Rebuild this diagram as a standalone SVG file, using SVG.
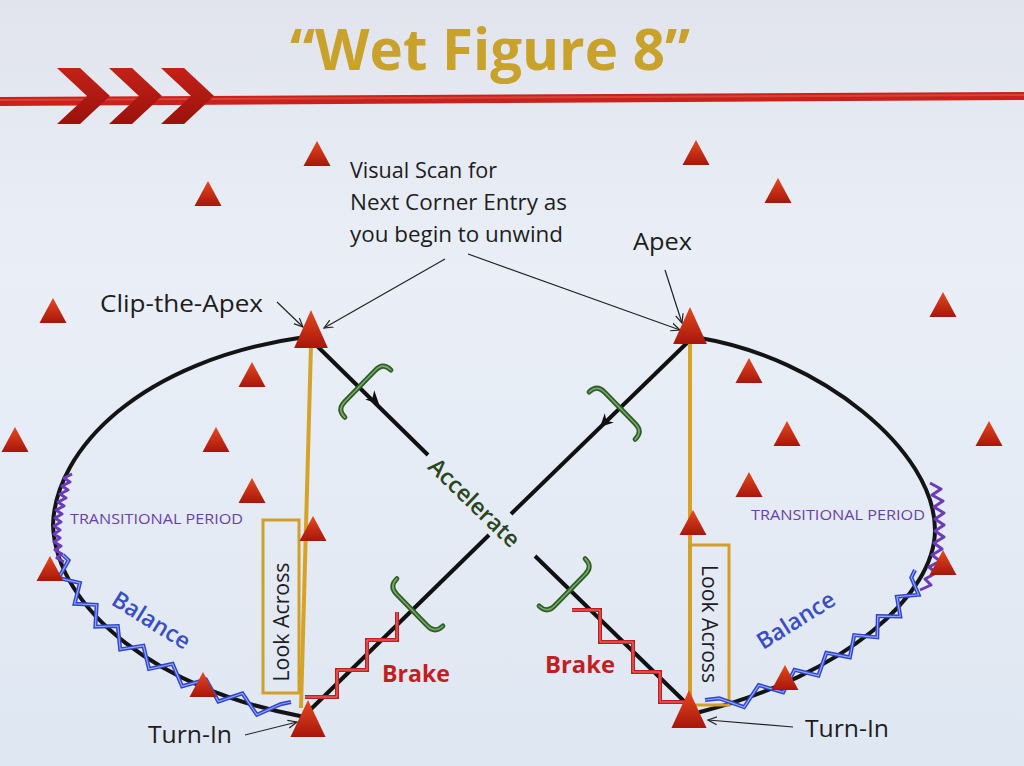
<svg xmlns="http://www.w3.org/2000/svg" width="1024" height="766" viewBox="0 0 1024 766">
<defs>
<linearGradient id="bg" x1="0" y1="0" x2="0" y2="1">
<stop offset="0" stop-color="#e1e4ec"/>
<stop offset="0.35" stop-color="#eaeff7"/>
<stop offset="1" stop-color="#dfe7f2"/>
</linearGradient>
<linearGradient id="coneGrad" x1="0" y1="0" x2="0" y2="1">
<stop offset="0" stop-color="#e4491f"/>
<stop offset="1" stop-color="#a8160b"/>
</linearGradient>
<linearGradient id="chevGrad" x1="0" y1="0" x2="0" y2="1">
<stop offset="0" stop-color="#c42117"/>
<stop offset="1" stop-color="#9a120c"/>
</linearGradient>
<path id="cone" d="M-13.5,0 L0,-25 L13.5,0 Z"/>
<path id="bracket" d="M11,-33 C3,-33 0,-29 0,-22 L0,22 C0,29 3,33 11,33"/>
<path id="chev" d="M0,0 L23,0 L53,28 L23,56 L0,56 L30,28 Z"/>
<marker id="open" viewBox="0 0 10 10" refX="9" refY="5" markerWidth="10" markerHeight="10" markerUnits="userSpaceOnUse" orient="auto">
<path d="M0,1 L9,5 L0,9" fill="none" stroke="#222" stroke-width="1.2"/>
</marker>
<style>
.cone{fill:url(#coneGrad);}
.loop{fill:none;stroke:#141414;stroke-width:4;stroke-linecap:round;}
.diag{fill:none;stroke:#111;stroke-width:4;}
.gold{fill:none;stroke:#d6a329;stroke-width:4;}
.box{fill:none;stroke:#d0a02a;stroke-width:3;}
.brk1{fill:none;stroke:#2f5d28;stroke-width:5;stroke-linecap:round;}
.brk2{fill:none;stroke:#7aa866;stroke-width:1.6;stroke-linecap:round;}
.blue1{fill:none;stroke:#3243c9;stroke-width:4;stroke-linejoin:miter;}
.blue2{fill:none;stroke:#8fa8ff;stroke-width:1.2;}
.purp{fill:none;stroke:#6a3cb8;stroke-width:3;stroke-linejoin:round;}
.red1{fill:none;stroke:#c51d1f;stroke-width:4;}
.red2{fill:none;stroke:#f07a74;stroke-width:1;}
.ann{fill:none;stroke:#222;stroke-width:1.2;marker-end:url(#open);}
.t{font-family:"Open Sans","Liberation Sans",sans-serif;fill:#1d1d1d;}
.lbl{font-size:23px;}
.trans{font-family:"Open Sans","Liberation Sans",sans-serif;font-size:15px;fill:#6a3fa8;}
.bal{font-family:"Open Sans","Liberation Sans",sans-serif;font-size:23px;font-weight:600;fill:#3a4ec4;}
.brake{font-family:"Open Sans","Liberation Sans",sans-serif;font-size:23px;font-weight:700;fill:#c11f22;}
</style>
</defs>

<rect width="1024" height="766" fill="url(#bg)"/>

<g id="header">
<polygon points="0,97 1024,92 1024,100 0,106" fill="#c9221d"/>
<polygon points="0,99 1024,94 1024,96 0,101" fill="#e55a4a" opacity="0.6"/>
<use href="#chev" x="57" y="68" fill="url(#chevGrad)"/>
<use href="#chev" x="109" y="68" fill="url(#chevGrad)"/>
<use href="#chev" x="161" y="68" fill="url(#chevGrad)"/>
</g>

<g id="title">
<text x="490" y="70" text-anchor="middle" font-family="'Open Sans','Liberation Sans',sans-serif" font-size="57" font-weight="700" fill="#c9a22b" textLength="400" lengthAdjust="spacingAndGlyphs">“Wet Figure 8”</text>
</g>

<g id="connectors">
<path class="loop" d="M305,337 C140,360 55,450 53,525 C56,610 160,690 300,716"/>
<path class="loop" d="M700,338 C820,358 935,450 935,530 C935,595 845,675 700,712"/>
<path class="diag" d="M311,340 L428,455"/>
<path class="diag" d="M535,556 L688,705"/>
<path class="diag" d="M690,340 L511,514"/>
<path class="diag" d="M489,535 L308,712"/>
<path d="M0,0 L-13,-6.5 L-9,0 L-13,6.5 Z" fill="#111" transform="translate(379,404) rotate(44.2)"/>
<path d="M0,0 L-13,-6.5 L-9,0 L-13,6.5 Z" fill="#111" transform="translate(600,427) rotate(135.8)"/>
<path class="gold" d="M311,345 L301,708"/>
<path class="gold" d="M690,344 L690,705"/>
<path class="ann" d="M445,259 L324,328"/>
<path class="ann" d="M468,254 L680,330"/>
<path class="ann" d="M277,302 L303,327"/>
<path class="ann" d="M665,270 L682,323"/>
<path class="ann" d="M245,735 L297,722"/>
<path class="ann" d="M793,727 L708,720"/>
</g>

<g id="look-across-left">
<rect class="box" x="263" y="520" width="36" height="173"/>
<text class="t" font-size="21" transform="translate(289,622) rotate(-90)" text-anchor="middle" textLength="119" lengthAdjust="spacingAndGlyphs">Look Across</text>
</g>
<g id="look-across-right">
<rect class="box" x="690" y="545" width="39" height="160"/>
<text class="t" font-size="21" transform="translate(702,624) rotate(90)" text-anchor="middle" textLength="118" lengthAdjust="spacingAndGlyphs">Look Across</text>
</g>

<g id="transitional-left">
<polyline class="purp" points="72,474 64,478 70,482 62,486 68,490 60,494 66,498 58,502 64,506 56,510 62,514 55,518 61,522 54,526 60,530 54,534 60,538 54,542 61,546 55,550 62,554 57,558 64,562"/>
<text class="trans" x="70" y="524" textLength="173" lengthAdjust="spacingAndGlyphs">TRANSITIONAL PERIOD</text>
</g>
<g id="transitional-right">
<polyline class="purp" points="930,483 941,489 932,495 943,501 934,507 944,513 935,519 944,525 935,531 944,537 934,543 942,549 932,555 940,561 929,567 936,573 925,579 931,585 920,590"/>
<text class="trans" x="751" y="520" textLength="174" lengthAdjust="spacingAndGlyphs">TRANSITIONAL PERIOD</text>
</g>

<g id="balance-left">
<polyline class="blue1" points="63,555 68.6,560.3 58.6,578 79.9,583 74.6,603.8 96.6,604.8 95.4,626.7 117.8,626 120.2,649.4 143.4,645.8 149,669 172.6,663.9 182.1,686.3 206,679.6 218.4,701.5 242.4,693.4 256.9,714.8 280.6,704.2 291,702"/>
<polyline class="blue2" points="63,555 68.6,560.3 58.6,578 79.9,583 74.6,603.8 96.6,604.8 95.4,626.7 117.8,626 120.2,649.4 143.4,645.8 149,669 172.6,663.9 182.1,686.3 206,679.6 218.4,701.5 242.4,693.4 256.9,714.8 280.6,704.2 291,702"/>
<text class="bal" transform="translate(147,627) rotate(32)" text-anchor="middle">Balance</text>
</g>
<g id="balance-right">
<polyline class="blue1" points="705,700 719.3,698.4 744.1,707.2 758.8,685.1 783.2,692.4 794.5,669.9 818.4,675.7 826.3,652.9 849.9,657.3 854.2,635.1 877.3,637.4 877.8,616.1 900.3,616.5 896.9,596.7 918.6,594.8 911.3,577.6 915,570"/>
<polyline class="blue2" points="705,700 719.3,698.4 744.1,707.2 758.8,685.1 783.2,692.4 794.5,669.9 818.4,675.7 826.3,652.9 849.9,657.3 854.2,635.1 877.3,637.4 877.8,616.1 900.3,616.5 896.9,596.7 918.6,594.8 911.3,577.6 915,570"/>
<text class="bal" transform="translate(800,627) rotate(-32)" text-anchor="middle">Balance</text>
</g>

<g id="brake-left">
<polyline class="red1" points="305,697 337,697 337,670 367,670 367,640 397,640 397,612"/>
<polyline class="red2" points="305,697 337,697 337,670 367,670 367,640 397,640 397,612"/>
<text class="brake" x="416" y="682" text-anchor="middle" textLength="68" lengthAdjust="spacingAndGlyphs">Brake</text>
</g>
<g id="brake-right">
<polyline class="red1" points="572,610 600,610 600,642 633,642 633,672 660,672 660,702 687,702"/>
<polyline class="red2" points="572,610 600,610 600,642 633,642 633,672 660,672 660,702 687,702"/>
<text class="brake" x="580" y="673" text-anchor="middle" textLength="70" lengthAdjust="spacingAndGlyphs">Brake</text>
</g>

<g id="brackets">
<g transform="translate(360,386) rotate(44.2)"><use href="#bracket" class="brk1"/><use href="#bracket" class="brk2"/></g>
<g transform="translate(620,408) rotate(135.8)"><use href="#bracket" class="brk1"/><use href="#bracket" class="brk2"/></g>
<g transform="translate(412,610) rotate(-44.2)"><use href="#bracket" class="brk1"/><use href="#bracket" class="brk2"/></g>
<g transform="translate(570,590) rotate(224.2)"><use href="#bracket" class="brk1"/><use href="#bracket" class="brk2"/></g>
</g>

<g id="accelerate">
<text transform="translate(475,502) rotate(44)" text-anchor="middle" dominant-baseline="central" font-family="'Open Sans','Liberation Sans',sans-serif" font-size="23" font-weight="600" fill="#2a461e">Accelerate</text>
</g>

<g id="cones">
<use href="#cone" class="cone" x="317" y="166"/>
<use href="#cone" class="cone" x="208" y="206"/>
<use href="#cone" class="cone" x="696" y="165"/>
<use href="#cone" class="cone" x="778" y="203"/>
<use href="#cone" class="cone" x="53" y="323"/>
<use href="#cone" class="cone" x="943" y="317"/>
<use href="#cone" class="cone" x="15" y="452"/>
<use href="#cone" class="cone" x="989" y="446"/>
<use href="#cone" class="cone" x="252" y="387"/>
<use href="#cone" class="cone" x="216" y="452"/>
<use href="#cone" class="cone" x="252" y="503"/>
<use href="#cone" class="cone" x="749" y="383"/>
<use href="#cone" class="cone" x="787" y="446"/>
<use href="#cone" class="cone" x="749" y="497"/>
<use href="#cone" class="cone" x="313" y="541"/>
<use href="#cone" class="cone" x="693" y="535"/>
<use href="#cone" class="cone" x="50" y="581"/>
<use href="#cone" class="cone" x="943" y="575"/>
<use href="#cone" class="cone" x="203" y="697"/>
<use href="#cone" class="cone" x="785" y="690"/>
</g>
<g id="apex-left"><use href="#cone" class="cone" transform="translate(311,348) scale(1.25,1.52)"/></g>
<g id="apex-right"><use href="#cone" class="cone" transform="translate(690,344) scale(1.25,1.48)"/></g>
<g id="turnin-left"><use href="#cone" class="cone" transform="translate(308,737) scale(1.3,1.48)"/></g>
<g id="turnin-right"><use href="#cone" class="cone" transform="translate(689,728) scale(1.3,1.52)"/></g>

<g id="labels">
<text class="t" font-size="22" x="350" y="178" textLength="147" lengthAdjust="spacingAndGlyphs">Visual Scan for</text>
<text class="t" font-size="22" x="350" y="210" textLength="217" lengthAdjust="spacingAndGlyphs">Next Corner Entry as</text>
<text class="t" font-size="22" x="350" y="242" textLength="213" lengthAdjust="spacingAndGlyphs">you begin to unwind</text>
<text class="t lbl" x="100" y="312" textLength="163" lengthAdjust="spacingAndGlyphs">Clip-the-Apex</text>
<text class="t lbl" x="633" y="250" textLength="59" lengthAdjust="spacingAndGlyphs">Apex</text>
<text class="t lbl" x="148" y="743" textLength="84" lengthAdjust="spacingAndGlyphs">Turn-In</text>
<text class="t lbl" x="805" y="737" textLength="84" lengthAdjust="spacingAndGlyphs">Turn-In</text>
</g>
</svg>
